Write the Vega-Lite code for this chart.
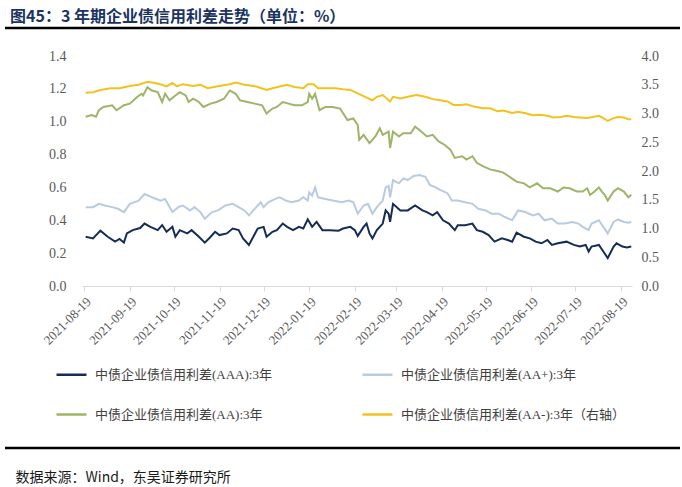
{
  "$schema": "https://vega.github.io/schema/vega-lite/v6.json",
  "width": 550,
  "height": 230,
  "autosize": "none",
  "padding": {"left": 82, "top": 56, "right": 50, "bottom": 201},
  "background": "white",
  "config": {"view": {"stroke": null}},
  "title": {
    "text": "图45：3 年期企业债信用利差走势（单位：%）",
    "anchor": "start",
    "frame": "group",
    "dx": -72,
    "offset": 2,
    "font": "Noto Sans CJK SC",
    "fontWeight": "bold",
    "fontSize": 16,
    "color": "#1c3461"
  },
  "datasets": {
    "rows": [
      {"s":"AAA","d":"2021-08-20","v":0.30},{"s":"AAA","d":"2021-08-25","v":0.29},{"s":"AAA","d":"2021-08-30","v":0.337},{"s":"AAA","d":"2021-09-04","v":0.30},{"s":"AAA","d":"2021-09-09","v":0.27},{"s":"AAA","d":"2021-09-12","v":0.286},{"s":"AAA","d":"2021-09-15","v":0.264},{"s":"AAA","d":"2021-09-17","v":0.32},{"s":"AAA","d":"2021-09-21","v":0.34},{"s":"AAA","d":"2021-09-26","v":0.353},{"s":"AAA","d":"2021-09-29","v":0.38},{"s":"AAA","d":"2021-10-03","v":0.36},{"s":"AAA","d":"2021-10-08","v":0.34},{"s":"AAA","d":"2021-10-11","v":0.371},{"s":"AAA","d":"2021-10-14","v":0.33},{"s":"AAA","d":"2021-10-18","v":0.36},{"s":"AAA","d":"2021-10-20","v":0.30},{"s":"AAA","d":"2021-10-23","v":0.34},{"s":"AAA","d":"2021-10-28","v":0.32},{"s":"AAA","d":"2021-10-31","v":0.34},{"s":"AAA","d":"2021-11-05","v":0.30},{"s":"AAA","d":"2021-11-09","v":0.264},{"s":"AAA","d":"2021-11-13","v":0.30},{"s":"AAA","d":"2021-11-16","v":0.33},{"s":"AAA","d":"2021-11-19","v":0.31},{"s":"AAA","d":"2021-11-24","v":0.32},{"s":"AAA","d":"2021-11-28","v":0.35},{"s":"AAA","d":"2021-12-02","v":0.34},{"s":"AAA","d":"2021-12-05","v":0.29},{"s":"AAA","d":"2021-12-09","v":0.25},{"s":"AAA","d":"2021-12-12","v":0.30},{"s":"AAA","d":"2021-12-15","v":0.35},{"s":"AAA","d":"2021-12-19","v":0.36},{"s":"AAA","d":"2021-12-21","v":0.30},{"s":"AAA","d":"2021-12-25","v":0.33},{"s":"AAA","d":"2021-12-28","v":0.34},{"s":"AAA","d":"2022-01-01","v":0.38},{"s":"AAA","d":"2022-01-04","v":0.36},{"s":"AAA","d":"2022-01-08","v":0.34},{"s":"AAA","d":"2022-01-12","v":0.36},{"s":"AAA","d":"2022-01-15","v":0.35},{"s":"AAA","d":"2022-01-18","v":0.406},{"s":"AAA","d":"2022-01-21","v":0.36},{"s":"AAA","d":"2022-01-24","v":0.39},{"s":"AAA","d":"2022-01-28","v":0.34},{"s":"AAA","d":"2022-02-02","v":0.34},{"s":"AAA","d":"2022-02-08","v":0.337},{"s":"AAA","d":"2022-02-11","v":0.35},{"s":"AAA","d":"2022-02-16","v":0.36},{"s":"AAA","d":"2022-02-19","v":0.34},{"s":"AAA","d":"2022-02-21","v":0.305},{"s":"AAA","d":"2022-02-25","v":0.36},{"s":"AAA","d":"2022-02-27","v":0.38},{"s":"AAA","d":"2022-03-01","v":0.32},{"s":"AAA","d":"2022-03-03","v":0.29},{"s":"AAA","d":"2022-03-06","v":0.34},{"s":"AAA","d":"2022-03-10","v":0.38},{"s":"AAA","d":"2022-03-12","v":0.46},{"s":"AAA","d":"2022-03-14","v":0.44},{"s":"AAA","d":"2022-03-15","v":0.39},{"s":"AAA","d":"2022-03-17","v":0.50},{"s":"AAA","d":"2022-03-22","v":0.46},{"s":"AAA","d":"2022-03-27","v":0.46},{"s":"AAA","d":"2022-04-01","v":0.49},{"s":"AAA","d":"2022-04-06","v":0.46},{"s":"AAA","d":"2022-04-09","v":0.45},{"s":"AAA","d":"2022-04-13","v":0.43},{"s":"AAA","d":"2022-04-16","v":0.45},{"s":"AAA","d":"2022-04-20","v":0.40},{"s":"AAA","d":"2022-04-24","v":0.38},{"s":"AAA","d":"2022-04-28","v":0.34},{"s":"AAA","d":"2022-04-30","v":0.37},{"s":"AAA","d":"2022-05-05","v":0.37},{"s":"AAA","d":"2022-05-10","v":0.38},{"s":"AAA","d":"2022-05-13","v":0.34},{"s":"AAA","d":"2022-05-17","v":0.33},{"s":"AAA","d":"2022-05-21","v":0.31},{"s":"AAA","d":"2022-05-25","v":0.27},{"s":"AAA","d":"2022-05-30","v":0.29},{"s":"AAA","d":"2022-06-03","v":0.28},{"s":"AAA","d":"2022-06-06","v":0.27},{"s":"AAA","d":"2022-06-09","v":0.325},{"s":"AAA","d":"2022-06-14","v":0.30},{"s":"AAA","d":"2022-06-18","v":0.29},{"s":"AAA","d":"2022-06-22","v":0.27},{"s":"AAA","d":"2022-06-26","v":0.26},{"s":"AAA","d":"2022-06-30","v":0.28},{"s":"AAA","d":"2022-07-03","v":0.25},{"s":"AAA","d":"2022-07-07","v":0.26},{"s":"AAA","d":"2022-07-13","v":0.27},{"s":"AAA","d":"2022-07-18","v":0.25},{"s":"AAA","d":"2022-07-22","v":0.24},{"s":"AAA","d":"2022-07-26","v":0.25},{"s":"AAA","d":"2022-07-28","v":0.21},{"s":"AAA","d":"2022-07-30","v":0.24},{"s":"AAA","d":"2022-08-04","v":0.25},{"s":"AAA","d":"2022-08-07","v":0.21},{"s":"AAA","d":"2022-08-10","v":0.17},{"s":"AAA","d":"2022-08-14","v":0.24},{"s":"AAA","d":"2022-08-16","v":0.26},{"s":"AAA","d":"2022-08-20","v":0.24},{"s":"AAA","d":"2022-08-23","v":0.235},{"s":"AAA","d":"2022-08-26","v":0.24},

      {"s":"AA+","d":"2021-08-20","v":0.48},{"s":"AA+","d":"2021-08-25","v":0.48},{"s":"AA+","d":"2021-08-29","v":0.50},{"s":"AA+","d":"2021-09-02","v":0.49},{"s":"AA+","d":"2021-09-07","v":0.48},{"s":"AA+","d":"2021-09-11","v":0.47},{"s":"AA+","d":"2021-09-15","v":0.45},{"s":"AA+","d":"2021-09-19","v":0.50},{"s":"AA+","d":"2021-09-25","v":0.52},{"s":"AA+","d":"2021-09-29","v":0.56},{"s":"AA+","d":"2021-10-04","v":0.54},{"s":"AA+","d":"2021-10-10","v":0.52},{"s":"AA+","d":"2021-10-13","v":0.53},{"s":"AA+","d":"2021-10-18","v":0.45},{"s":"AA+","d":"2021-10-22","v":0.48},{"s":"AA+","d":"2021-10-25","v":0.49},{"s":"AA+","d":"2021-10-30","v":0.46},{"s":"AA+","d":"2021-11-02","v":0.48},{"s":"AA+","d":"2021-11-06","v":0.45},{"s":"AA+","d":"2021-11-09","v":0.41},{"s":"AA+","d":"2021-11-14","v":0.45},{"s":"AA+","d":"2021-11-18","v":0.46},{"s":"AA+","d":"2021-11-23","v":0.49},{"s":"AA+","d":"2021-11-28","v":0.50},{"s":"AA+","d":"2021-12-02","v":0.48},{"s":"AA+","d":"2021-12-06","v":0.46},{"s":"AA+","d":"2021-12-09","v":0.43},{"s":"AA+","d":"2021-12-12","v":0.46},{"s":"AA+","d":"2021-12-17","v":0.51},{"s":"AA+","d":"2021-12-19","v":0.48},{"s":"AA+","d":"2021-12-22","v":0.51},{"s":"AA+","d":"2021-12-27","v":0.53},{"s":"AA+","d":"2021-12-30","v":0.54},{"s":"AA+","d":"2022-01-03","v":0.52},{"s":"AA+","d":"2022-01-07","v":0.51},{"s":"AA+","d":"2022-01-12","v":0.52},{"s":"AA+","d":"2022-01-15","v":0.54},{"s":"AA+","d":"2022-01-18","v":0.52},{"s":"AA+","d":"2022-01-19","v":0.57},{"s":"AA+","d":"2022-01-21","v":0.55},{"s":"AA+","d":"2022-01-23","v":0.60},{"s":"AA+","d":"2022-01-25","v":0.54},{"s":"AA+","d":"2022-01-30","v":0.53},{"s":"AA+","d":"2022-02-04","v":0.52},{"s":"AA+","d":"2022-02-10","v":0.51},{"s":"AA+","d":"2022-02-15","v":0.52},{"s":"AA+","d":"2022-02-18","v":0.51},{"s":"AA+","d":"2022-02-21","v":0.44},{"s":"AA+","d":"2022-02-25","v":0.49},{"s":"AA+","d":"2022-02-28","v":0.50},{"s":"AA+","d":"2022-03-03","v":0.44},{"s":"AA+","d":"2022-03-06","v":0.48},{"s":"AA+","d":"2022-03-10","v":0.52},{"s":"AA+","d":"2022-03-12","v":0.60},{"s":"AA+","d":"2022-03-14","v":0.61},{"s":"AA+","d":"2022-03-15","v":0.54},{"s":"AA+","d":"2022-03-17","v":0.645},{"s":"AA+","d":"2022-03-21","v":0.625},{"s":"AA+","d":"2022-03-24","v":0.655},{"s":"AA+","d":"2022-03-27","v":0.645},{"s":"AA+","d":"2022-03-31","v":0.67},{"s":"AA+","d":"2022-04-04","v":0.675},{"s":"AA+","d":"2022-04-08","v":0.665},{"s":"AA+","d":"2022-04-11","v":0.615},{"s":"AA+","d":"2022-04-15","v":0.60},{"s":"AA+","d":"2022-04-18","v":0.585},{"s":"AA+","d":"2022-04-23","v":0.565},{"s":"AA+","d":"2022-04-26","v":0.52},{"s":"AA+","d":"2022-04-30","v":0.52},{"s":"AA+","d":"2022-05-05","v":0.51},{"s":"AA+","d":"2022-05-10","v":0.50},{"s":"AA+","d":"2022-05-14","v":0.47},{"s":"AA+","d":"2022-05-19","v":0.46},{"s":"AA+","d":"2022-05-23","v":0.44},{"s":"AA+","d":"2022-05-28","v":0.44},{"s":"AA+","d":"2022-06-01","v":0.42},{"s":"AA+","d":"2022-06-06","v":0.40},{"s":"AA+","d":"2022-06-10","v":0.46},{"s":"AA+","d":"2022-06-15","v":0.45},{"s":"AA+","d":"2022-06-20","v":0.43},{"s":"AA+","d":"2022-06-24","v":0.44},{"s":"AA+","d":"2022-06-28","v":0.40},{"s":"AA+","d":"2022-07-03","v":0.41},{"s":"AA+","d":"2022-07-07","v":0.38},{"s":"AA+","d":"2022-07-12","v":0.38},{"s":"AA+","d":"2022-07-17","v":0.39},{"s":"AA+","d":"2022-07-21","v":0.38},{"s":"AA+","d":"2022-07-24","v":0.36},{"s":"AA+","d":"2022-07-28","v":0.34},{"s":"AA+","d":"2022-07-30","v":0.38},{"s":"AA+","d":"2022-08-04","v":0.40},{"s":"AA+","d":"2022-08-07","v":0.36},{"s":"AA+","d":"2022-08-10","v":0.32},{"s":"AA+","d":"2022-08-14","v":0.39},{"s":"AA+","d":"2022-08-17","v":0.405},{"s":"AA+","d":"2022-08-21","v":0.39},{"s":"AA+","d":"2022-08-24","v":0.385},{"s":"AA+","d":"2022-08-26","v":0.39},

      {"s":"AA","d":"2021-08-20","v":1.03},{"s":"AA","d":"2021-08-24","v":1.04},{"s":"AA","d":"2021-08-27","v":1.03},{"s":"AA","d":"2021-08-29","v":1.07},{"s":"AA","d":"2021-09-01","v":1.09},{"s":"AA","d":"2021-09-07","v":1.10},{"s":"AA","d":"2021-09-10","v":1.07},{"s":"AA","d":"2021-09-15","v":1.10},{"s":"AA","d":"2021-09-19","v":1.11},{"s":"AA","d":"2021-09-24","v":1.15},{"s":"AA","d":"2021-09-27","v":1.17},{"s":"AA","d":"2021-09-28","v":1.16},{"s":"AA","d":"2021-10-01","v":1.21},{"s":"AA","d":"2021-10-04","v":1.19},{"s":"AA","d":"2021-10-08","v":1.18},{"s":"AA","d":"2021-10-11","v":1.12},{"s":"AA","d":"2021-10-13","v":1.17},{"s":"AA","d":"2021-10-16","v":1.13},{"s":"AA","d":"2021-10-20","v":1.16},{"s":"AA","d":"2021-10-23","v":1.18},{"s":"AA","d":"2021-10-27","v":1.16},{"s":"AA","d":"2021-10-29","v":1.12},{"s":"AA","d":"2021-11-01","v":1.14},{"s":"AA","d":"2021-11-05","v":1.12},{"s":"AA","d":"2021-11-08","v":1.09},{"s":"AA","d":"2021-11-13","v":1.11},{"s":"AA","d":"2021-11-17","v":1.12},{"s":"AA","d":"2021-11-22","v":1.14},{"s":"AA","d":"2021-11-26","v":1.19},{"s":"AA","d":"2021-11-30","v":1.17},{"s":"AA","d":"2021-12-03","v":1.13},{"s":"AA","d":"2021-12-08","v":1.12},{"s":"AA","d":"2021-12-13","v":1.11},{"s":"AA","d":"2021-12-18","v":1.10},{"s":"AA","d":"2021-12-21","v":1.05},{"s":"AA","d":"2021-12-25","v":1.08},{"s":"AA","d":"2021-12-28","v":1.09},{"s":"AA","d":"2022-01-01","v":1.12},{"s":"AA","d":"2022-01-05","v":1.11},{"s":"AA","d":"2022-01-09","v":1.10},{"s":"AA","d":"2022-01-14","v":1.10},{"s":"AA","d":"2022-01-18","v":1.12},{"s":"AA","d":"2022-01-19","v":1.17},{"s":"AA","d":"2022-01-21","v":1.14},{"s":"AA","d":"2022-01-23","v":1.17},{"s":"AA","d":"2022-01-26","v":1.07},{"s":"AA","d":"2022-01-30","v":1.09},{"s":"AA","d":"2022-02-04","v":1.09},{"s":"AA","d":"2022-02-09","v":1.08},{"s":"AA","d":"2022-02-14","v":1.01},{"s":"AA","d":"2022-02-18","v":1.02},{"s":"AA","d":"2022-02-21","v":0.98},{"s":"AA","d":"2022-02-22","v":0.89},{"s":"AA","d":"2022-02-25","v":0.92},{"s":"AA","d":"2022-03-01","v":0.87},{"s":"AA","d":"2022-03-05","v":0.91},{"s":"AA","d":"2022-03-08","v":0.96},{"s":"AA","d":"2022-03-10","v":0.92},{"s":"AA","d":"2022-03-14","v":0.94},{"s":"AA","d":"2022-03-15","v":0.84},{"s":"AA","d":"2022-03-17","v":0.94},{"s":"AA","d":"2022-03-21","v":0.91},{"s":"AA","d":"2022-03-24","v":0.93},{"s":"AA","d":"2022-03-29","v":0.93},{"s":"AA","d":"2022-04-01","v":0.97},{"s":"AA","d":"2022-04-04","v":0.95},{"s":"AA","d":"2022-04-09","v":0.91},{"s":"AA","d":"2022-04-13","v":0.92},{"s":"AA","d":"2022-04-17","v":0.88},{"s":"AA","d":"2022-04-21","v":0.86},{"s":"AA","d":"2022-04-25","v":0.83},{"s":"AA","d":"2022-04-28","v":0.78},{"s":"AA","d":"2022-05-03","v":0.79},{"s":"AA","d":"2022-05-06","v":0.77},{"s":"AA","d":"2022-05-10","v":0.79},{"s":"AA","d":"2022-05-13","v":0.75},{"s":"AA","d":"2022-05-17","v":0.73},{"s":"AA","d":"2022-05-22","v":0.71},{"s":"AA","d":"2022-05-27","v":0.70},{"s":"AA","d":"2022-05-31","v":0.69},{"s":"AA","d":"2022-06-05","v":0.66},{"s":"AA","d":"2022-06-09","v":0.635},{"s":"AA","d":"2022-06-14","v":0.625},{"s":"AA","d":"2022-06-18","v":0.60},{"s":"AA","d":"2022-06-23","v":0.625},{"s":"AA","d":"2022-06-27","v":0.595},{"s":"AA","d":"2022-07-02","v":0.595},{"s":"AA","d":"2022-07-07","v":0.575},{"s":"AA","d":"2022-07-11","v":0.60},{"s":"AA","d":"2022-07-15","v":0.595},{"s":"AA","d":"2022-07-20","v":0.575},{"s":"AA","d":"2022-07-24","v":0.575},{"s":"AA","d":"2022-07-27","v":0.595},{"s":"AA","d":"2022-07-29","v":0.554},{"s":"AA","d":"2022-08-01","v":0.575},{"s":"AA","d":"2022-08-04","v":0.60},{"s":"AA","d":"2022-08-06","v":0.575},{"s":"AA","d":"2022-08-08","v":0.554},{"s":"AA","d":"2022-08-10","v":0.52},{"s":"AA","d":"2022-08-14","v":0.575},{"s":"AA","d":"2022-08-17","v":0.595},{"s":"AA","d":"2022-08-21","v":0.575},{"s":"AA","d":"2022-08-24","v":0.54},{"s":"AA","d":"2022-08-26","v":0.555},

      {"s":"AA-","d":"2021-08-20","v":3.36},{"s":"AA-","d":"2021-08-25","v":3.37},{"s":"AA-","d":"2021-08-30","v":3.41},{"s":"AA-","d":"2021-09-06","v":3.44},{"s":"AA-","d":"2021-09-12","v":3.44},{"s":"AA-","d":"2021-09-19","v":3.48},{"s":"AA-","d":"2021-09-25","v":3.50},{"s":"AA-","d":"2021-10-01","v":3.55},{"s":"AA-","d":"2021-10-06","v":3.53},{"s":"AA-","d":"2021-10-11","v":3.50},{"s":"AA-","d":"2021-10-14","v":3.47},{"s":"AA-","d":"2021-10-18","v":3.53},{"s":"AA-","d":"2021-10-21","v":3.47},{"s":"AA-","d":"2021-10-25","v":3.51},{"s":"AA-","d":"2021-11-01","v":3.48},{"s":"AA-","d":"2021-11-06","v":3.50},{"s":"AA-","d":"2021-11-11","v":3.44},{"s":"AA-","d":"2021-11-17","v":3.47},{"s":"AA-","d":"2021-11-26","v":3.51},{"s":"AA-","d":"2021-11-30","v":3.54},{"s":"AA-","d":"2021-12-06","v":3.50},{"s":"AA-","d":"2021-12-12","v":3.48},{"s":"AA-","d":"2021-12-15","v":3.46},{"s":"AA-","d":"2021-12-21","v":3.41},{"s":"AA-","d":"2021-12-25","v":3.44},{"s":"AA-","d":"2021-12-30","v":3.47},{"s":"AA-","d":"2022-01-04","v":3.50},{"s":"AA-","d":"2022-01-09","v":3.46},{"s":"AA-","d":"2022-01-15","v":3.44},{"s":"AA-","d":"2022-01-18","v":3.51},{"s":"AA-","d":"2022-01-22","v":3.51},{"s":"AA-","d":"2022-01-25","v":3.44},{"s":"AA-","d":"2022-01-31","v":3.44},{"s":"AA-","d":"2022-02-06","v":3.44},{"s":"AA-","d":"2022-02-11","v":3.42},{"s":"AA-","d":"2022-02-16","v":3.41},{"s":"AA-","d":"2022-02-21","v":3.35},{"s":"AA-","d":"2022-02-26","v":3.29},{"s":"AA-","d":"2022-03-03","v":3.23},{"s":"AA-","d":"2022-03-06","v":3.29},{"s":"AA-","d":"2022-03-10","v":3.32},{"s":"AA-","d":"2022-03-15","v":3.21},{"s":"AA-","d":"2022-03-17","v":3.29},{"s":"AA-","d":"2022-03-22","v":3.26},{"s":"AA-","d":"2022-03-27","v":3.29},{"s":"AA-","d":"2022-04-02","v":3.32},{"s":"AA-","d":"2022-04-08","v":3.29},{"s":"AA-","d":"2022-04-13","v":3.25},{"s":"AA-","d":"2022-04-18","v":3.23},{"s":"AA-","d":"2022-04-23","v":3.21},{"s":"AA-","d":"2022-04-27","v":3.15},{"s":"AA-","d":"2022-05-02","v":3.15},{"s":"AA-","d":"2022-05-06","v":3.16},{"s":"AA-","d":"2022-05-11","v":3.12},{"s":"AA-","d":"2022-05-17","v":3.09},{"s":"AA-","d":"2022-05-22","v":3.09},{"s":"AA-","d":"2022-05-27","v":3.04},{"s":"AA-","d":"2022-05-31","v":3.05},{"s":"AA-","d":"2022-06-06","v":3.01},{"s":"AA-","d":"2022-06-10","v":3.03},{"s":"AA-","d":"2022-06-16","v":3.00},{"s":"AA-","d":"2022-06-20","v":2.97},{"s":"AA-","d":"2022-06-25","v":2.98},{"s":"AA-","d":"2022-06-30","v":2.96},{"s":"AA-","d":"2022-07-04","v":2.93},{"s":"AA-","d":"2022-07-09","v":2.94},{"s":"AA-","d":"2022-07-13","v":2.96},{"s":"AA-","d":"2022-07-18","v":2.94},{"s":"AA-","d":"2022-07-22","v":2.93},{"s":"AA-","d":"2022-07-27","v":2.92},{"s":"AA-","d":"2022-07-31","v":2.94},{"s":"AA-","d":"2022-08-04","v":2.96},{"s":"AA-","d":"2022-08-07","v":2.92},{"s":"AA-","d":"2022-08-10","v":2.87},{"s":"AA-","d":"2022-08-14","v":2.92},{"s":"AA-","d":"2022-08-17","v":2.94},{"s":"AA-","d":"2022-08-21","v":2.93},{"s":"AA-","d":"2022-08-24","v":2.90},{"s":"AA-","d":"2022-08-26","v":2.90}
    ]
  },
  "data": {"name": "rows"},
  "layer": [
    {
      "transform": [{"filter": "datum.s !== 'AA-'"}],
      "mark": {"type": "line", "strokeWidth": 2, "interpolate": "linear"},
      "encoding": {
        "x": {
          "field": "d", "type": "temporal",
          "scale": {"type": "utc", "domain": [{"year": 2021, "month": 8, "date": 17, "hours": 12, "utc": true}, {"year": 2022, "month": 8, "date": 26, "hours": 12, "utc": true}]},
          "axis": {
            "values": [
              {"year": 2021, "month": 8, "date": 19, "utc": true},{"year": 2021, "month": 9, "date": 19, "utc": true},{"year": 2021, "month": 10, "date": 19, "utc": true},{"year": 2021, "month": 11, "date": 19, "utc": true},{"year": 2021, "month": 12, "date": 19, "utc": true},{"year": 2022, "month": 1, "date": 19, "utc": true},{"year": 2022, "month": 2, "date": 19, "utc": true},{"year": 2022, "month": 3, "date": 19, "utc": true},{"year": 2022, "month": 4, "date": 19, "utc": true},{"year": 2022, "month": 5, "date": 19, "utc": true},{"year": 2022, "month": 6, "date": 19, "utc": true},{"year": 2022, "month": 7, "date": 19, "utc": true},{"year": 2022, "month": 8, "date": 19, "utc": true}
            ],
            "format": "%Y-%m-%d",
            "labelAngle": -45,
            "labelFont": "Liberation Serif",
            "labelFontSize": 13,
            "labelColor": "#595959",
            "labelPadding": 4,
            "labelOverlap": false,
            "labelFlush": false,
            "domainColor": "#d9d9d9",
            "tickColor": "#d9d9d9",
            "tickSize": 5,
            "grid": false,
            "title": "数据来源：Wind，东吴证券研究所",
            "titleX": -67,
            "titleY": 191,
            "titleAlign": "left",
            "titleBaseline": "middle",
            "titleFont": "Noto Sans CJK SC",
            "titleFontSize": 14,
            "titleFontWeight": "normal",
            "titleColor": "#1a1a1a"
          }
        },
        "y": {
          "field": "v", "type": "quantitative",
          "scale": {"domain": [0, 1.4], "nice": false},
          "axis": {
            "values": [0, 0.2, 0.4, 0.6, 0.8, 1.0, 1.2, 1.4],
            "format": ".1f",
            "domain": false, "ticks": false, "grid": false,
            "labelFont": "Liberation Serif", "labelFontSize": 14, "labelColor": "#595959",
            "labelPadding": 16, "title": null
          }
        },
        "color": {
          "field": "s", "type": "nominal",
          "scale": {"domain": ["AAA", "AA+", "AA", "AA-"], "range": ["#152c57", "#b9cbe0", "#9db469", "#f0c31f"]},
          "legend": {
            "orient": "none", "legendX": -27, "legendY": 302,
            "direction": "horizontal", "columns": 2,
            "title": null, "padding": 0,
            "symbolType": "stroke", "symbolSize": 900, "symbolStrokeWidth": 2.5,
            "labelOffset": 7,
            "labelFont": "Liberation Serif, Noto Sans CJK SC",
            "labelFontSize": 13, "labelColor": "#404040", "labelLimit": 400,
            "columnPadding": 85, "rowPadding": 16,
            "labelExpr": "datum.label == 'AAA' ? '中债企业债信用利差(AAA):3年' : datum.label == 'AA+' ? '中债企业债信用利差(AA+):3年' : datum.label == 'AA' ? '中债企业债信用利差(AA):3年' : '中债企业债信用利差(AA-):3年（右轴）'"
          }
        }
      }
    },
    {
      "transform": [{"filter": "datum.s === 'AA-'"}],
      "mark": {"type": "line", "strokeWidth": 2, "interpolate": "linear"},
      "encoding": {
        "x": {"field": "d", "type": "temporal"},
        "y": {
          "field": "v", "type": "quantitative",
          "scale": {"domain": [0, 4], "nice": false},
          "axis": {
            "orient": "right",
            "values": [0, 0.5, 1.0, 1.5, 2.0, 2.5, 3.0, 3.5, 4.0],
            "format": ".1f",
            "domain": false, "ticks": false, "grid": false,
            "labelFont": "Liberation Serif", "labelFontSize": 14, "labelColor": "#595959",
            "labelPadding": 9, "title": null
          }
        },
        "color": {"field": "s", "type": "nominal"}
      }
    },
    {
      "data": {"values": [{}]},
      "mark": {"type": "rule", "stroke": "#000000", "strokeWidth": 2.5},
      "encoding": {"x": {"value": -77}, "x2": {"value": 598}, "y": {"value": -28}}
    },
    {
      "data": {"values": [{}]},
      "mark": {"type": "rule", "stroke": "#000000", "strokeWidth": 2.5},
      "encoding": {"x": {"value": -77}, "x2": {"value": 598}, "y": {"value": 392}}
    }
  ],
  "resolve": {"scale": {"y": "independent"}}
}
